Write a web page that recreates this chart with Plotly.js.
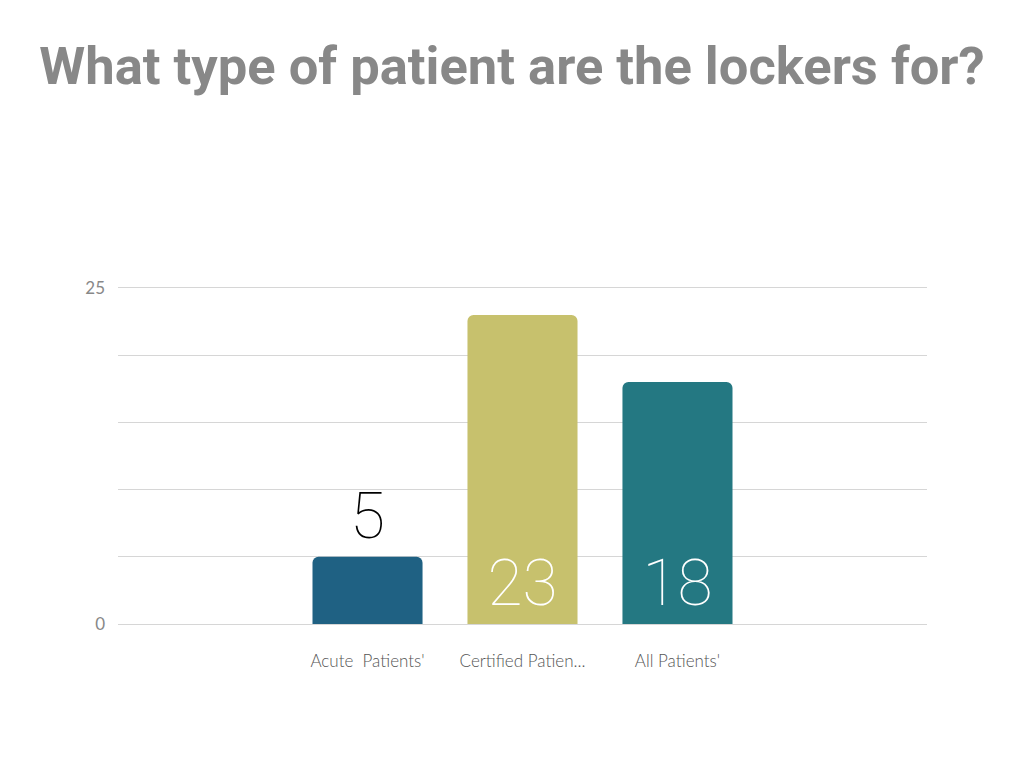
<!DOCTYPE html>
<html>
<head>
<meta charset="utf-8">
<script src="https://cdn.plot.ly/plotly-3.0.1.min.js"></script>
<style>html,body{margin:0;padding:0;background:#fff;}#chart{width:1024px;height:768px;}</style>
</head>
<body>
<div id="chart"></div>
<script>
const categories = ["Acute\u00a0 Patients'", "Certified Patien...", "All Patients'"];
const values = [5, 23, 18];
const barColors = ["#1f6183", "#c7c16d", "#247882"];
const valueLabels = ["5", "23", "18"];
const yTickVals = [0, 5, 10, 15, 20, 25];
const yTickText = ["0", "", "", "", "", "25"];
const chartTitle = "What type of patient are the lockers for?";

const labelFont = {family: "Roboto, 'DejaVu Sans Condensed', sans-serif", size: 64, weight: 100, stretch: "ultra-condensed"};

const trace = {
  type: "bar",
  x: categories,
  y: values,
  width: 0.71,
  text: valueLabels,
  textposition: ["outside", "inside", "inside"],
  insidetextanchor: "start",
  textangle: 0,
  cliponaxis: false,
  constraintext: "none",
  outsidetextfont: Object.assign({color: "#000000"}, labelFont),
  insidetextfont: Object.assign({color: "#ffffff"}, labelFont),
  marker: {color: barColors, cornerradius: 6, line: {width: 0}},
  hoverinfo: "none"
};

const layout = {
  width: 1024,
  height: 768,
  paper_bgcolor: "#ffffff",
  plot_bgcolor: "#ffffff",
  margin: {l: 118, r: 97, t: 288, b: 144},
  showlegend: false,
  title: {
    text: chartTitle,
    font: {family: "Roboto, sans-serif", size: 52.5, color: "#888888", weight: 700},
    x: 0.5, xanchor: "center",
    y: 1 - 66/768, yref: "container", yanchor: "middle"
  },
  xaxis: {
    type: "category",
    range: [-1.61, 3.61],
    showgrid: false,
    zeroline: false,
    showline: true,
    mirror: true,
    linecolor: "#d6d6d6",
    linewidth: 1,
    layer: "below traces",
    ticks: "",
    ticklabelstandoff: 22,
    tickfont: {family: "Lato, sans-serif", size: 17, color: "#555555", weight: 300}
  },
  yaxis: {
    range: [0, 25],
    tickvals: yTickVals,
    ticktext: yTickText,
    showgrid: true,
    gridcolor: "#d6d6d6",
    gridwidth: 1,
    zeroline: false,
    showline: false,
    ticks: "",
    ticklabelstandoff: 12,
    tickfont: {family: "Lato, sans-serif", size: 17, color: "#888888"}
  }
};

Plotly.newPlot("chart", [trace], layout, {staticPlot: true, displayModeBar: false});
</script>
</body>
</html>
